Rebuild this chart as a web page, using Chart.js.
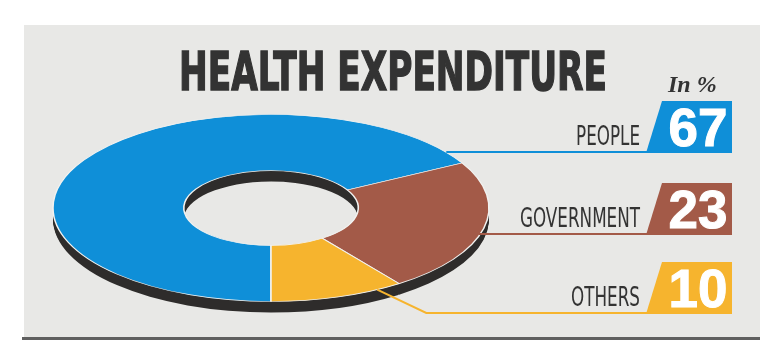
<!DOCTYPE html>
<html>
<head>
<meta charset="utf-8">
<script src="https://cdn.jsdelivr.net/npm/chart.js@4.4.1/dist/chart.umd.min.js"></script>
<style>
  html, body { margin: 0; padding: 0; background: #fff; }
  #wrap { width: 767px; height: 351px; }
</style>
</head>
<body>
<div id="wrap"><canvas id="chart" width="767" height="351"></canvas></div>
<script>
/* ============================================================
   DATOS
============================================================ */
const TITLE = 'HEALTH EXPENDITURE';
const UNIT = 'In %';
const LABELS = ['PEOPLE', 'GOVERNMENT', 'OTHERS'];
const SHARES = [67, 23, 10];
const COLORS = ['#0f8fd8', '#a35a48', '#f6b42e'];

/* ============================================================
   LAYOUT
============================================================ */
const PANEL = { x: 24, y: 25, w: 736, h: 312, color: '#e8e8e6' };
const RX = 218, RY = 93.5;          // radios de la elipse en pantalla
const DEPTH = 11;                    // grosor del lado 3d
const SHADOW = '#2e2c2b';
const BOX_TOPS = [101, 183, 262];
const BOX_H = 52, BOX_RIGHT = 732, BOX_TOP_W = 70, BOX_BOT_W = 86;
const LEADER_FRAC = [0.97, 0.55, 0.19];
const TEXT_DARK = '#333';
const CONDENSED = '"Liberation Sans Narrow", "DejaVu Sans Condensed", "Liberation Sans", sans-serif';

function aplicarElipse(ctx, arc) {
    ctx.translate(arc.x, arc.y);
    ctx.scale(RX / arc.outerRadius, RY / arc.outerRadius);
    ctx.translate(-arc.x, -arc.y);
}

function puntoElipse(arc, frac) {
    const a = arc.startAngle + (arc.endAngle - arc.startAngle) * frac;
    return { x: arc.x + RX * Math.cos(a), y: arc.y + RY * Math.sin(a) };
}

const decorado = {
    id: 'decorado',
    beforeDraw(chart) {
        const { ctx } = chart;
        ctx.save();
        ctx.fillStyle = '#fff';
        ctx.fillRect(0, 0, chart.width, chart.height);
        ctx.fillStyle = PANEL.color;
        ctx.fillRect(PANEL.x, PANEL.y, PANEL.w, PANEL.h);
        ctx.fillStyle = '#5f5f5f';
        ctx.fillRect(PANEL.x - 2, PANEL.y + PANEL.h, PANEL.w + 2, 3);
        ctx.restore();
    },
    beforeDatasetsDraw(chart) {
        const { ctx } = chart;
        const arcs = chart.getDatasetMeta(0).data;
        // lado 3d: el anillo repetido hacia abajo
        ctx.save();
        ctx.fillStyle = SHADOW;
        for (let d = 1; d <= DEPTH; d++) {
            ctx.save();
            ctx.translate(0, d);
            aplicarElipse(ctx, arcs[0]);
            arcs.forEach(a => {
                ctx.beginPath();
                ctx.arc(a.x, a.y, a.outerRadius, a.startAngle, a.endAngle);
                ctx.arc(a.x, a.y, a.innerRadius, a.endAngle, a.startAngle, true);
                ctx.closePath();
                ctx.fill();
            });
            ctx.restore();
        }
        ctx.restore();
        ctx.save();
        aplicarElipse(ctx, arcs[0]);
    },
    afterDatasetsDraw(chart) {
        const { ctx } = chart;
        ctx.restore();
        const arcs = chart.getDatasetMeta(0).data;

        // titulo
        ctx.save();
        ctx.fillStyle = TEXT_DARK;
        ctx.strokeStyle = TEXT_DARK;
        ctx.lineWidth = 1.4;
        ctx.font = 'bold 53px ' + CONDENSED;
        const kt = 428 / ctx.measureText(TITLE).width;
        ctx.translate(393, 90);
        ctx.scale(kt, 1);
        ctx.textAlign = 'center';
        ctx.fillText(TITLE, 0, 0);
        ctx.strokeText(TITLE, 0, 0);
        ctx.restore();

        ctx.save();
        ctx.fillStyle = TEXT_DARK;
        ctx.font = 'italic bold 24px "Liberation Serif", serif';
        ctx.fillText(UNIT, 668, 92);
        ctx.restore();

        // etiquetas, lineas y cajas
        ctx.save();
        ctx.font = '26px ' + CONDENSED;
        const kl = 120 / ctx.measureText('GOVERNMENT').width;
        LABELS.forEach((lab, i) => {
            const top = BOX_TOPS[i], bot = top + BOX_H;
            const p = puntoElipse(arcs[i], LEADER_FRAC[i]);
            const ly = bot - 1;
            ctx.strokeStyle = COLORS[i];
            ctx.lineWidth = 2;
            ctx.beginPath();
            ctx.moveTo(p.x, p.y);
            ctx.lineTo(p.x + Math.max(0, ly - p.y) * 2.1, ly);
            ctx.lineTo(BOX_RIGHT - BOX_BOT_W + 2, ly);
            ctx.stroke();

            ctx.fillStyle = COLORS[i];
            ctx.beginPath();
            ctx.moveTo(BOX_RIGHT - BOX_TOP_W, top);
            ctx.lineTo(BOX_RIGHT, top);
            ctx.lineTo(BOX_RIGHT, bot);
            ctx.lineTo(BOX_RIGHT - BOX_BOT_W, bot);
            ctx.closePath();
            ctx.fill();

            ctx.fillStyle = '#fff';
            ctx.strokeStyle = '#fff';
            ctx.lineWidth = 1;
            ctx.font = 'bold 53px "Liberation Sans", Arial, sans-serif';
            ctx.textAlign = 'center';
            ctx.fillText(String(SHARES[i]), BOX_RIGHT - 34, top + BOX_H / 2 + 19);
            ctx.strokeText(String(SHARES[i]), BOX_RIGHT - 34, top + BOX_H / 2 + 19);

            ctx.fillStyle = TEXT_DARK;
            ctx.font = '26px ' + CONDENSED;
            ctx.save();
            ctx.translate(BOX_RIGHT - BOX_BOT_W - 6, bot - 8);
            ctx.scale(kl, 1);
            ctx.textAlign = 'right';
            ctx.fillText(lab, 0, 0);
            ctx.restore();
        });
        ctx.restore();
    }
};

/* ============================================================
   GRÁFICO
============================================================ */
const ctx = document.getElementById('chart').getContext('2d');
new Chart(ctx, {
    type: 'doughnut',
    data: {
        labels: LABELS,
        datasets: [{
            data: SHARES,
            backgroundColor: COLORS,
            borderColor: '#f2f2f0',
            borderWidth: 1,
            clip: false
        }]
    },
    options: {
        responsive: false,
        animation: false,
        events: [],
        rotation: 180,
        cutout: '40%',
        layout: { padding: { left: 131, right: 356, top: 68, bottom: 3 } },
        plugins: { legend: { display: false }, tooltip: { enabled: false } }
    },
    plugins: [decorado]
});
</script>
</body>
</html>
